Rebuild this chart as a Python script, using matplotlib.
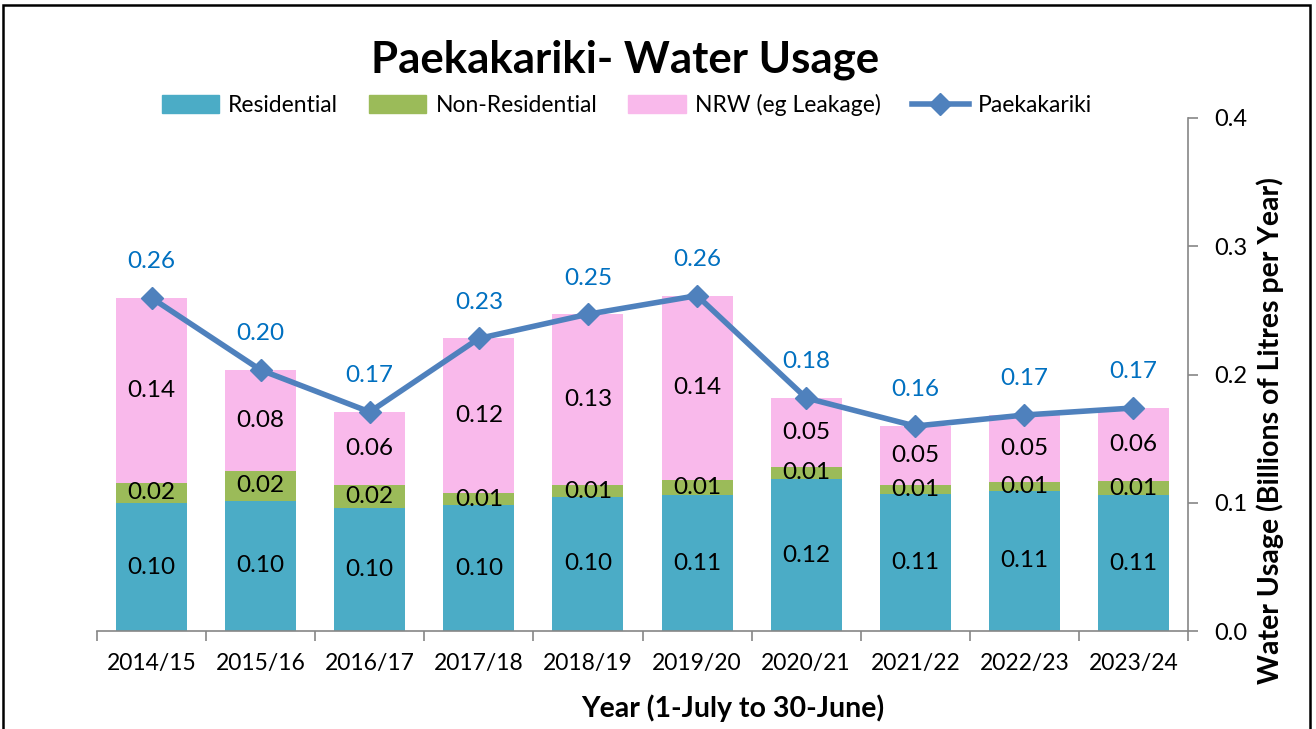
import numpy as np
import matplotlib.pyplot as plt
from matplotlib.patches import Rectangle
from matplotlib.lines import Line2D
from matplotlib.patches import Patch

years = ['2014/15', '2015/16', '2016/17', '2017/18', '2018/19',
         '2019/20', '2020/21', '2021/22', '2022/23', '2023/24']
residential = [0.0998, 0.1014, 0.0959, 0.0982, 0.1045, 0.1060, 0.1185, 0.1068, 0.1092, 0.1060]
non_residential = [0.0157, 0.0234, 0.0179, 0.0094, 0.0093, 0.0117, 0.0094, 0.0070, 0.0070, 0.0110]
nrw = [0.1442, 0.0787, 0.0570, 0.1205, 0.1332, 0.1438, 0.0538, 0.0460, 0.0522, 0.0569]
y_ticks = [0.0, 0.1, 0.2, 0.3, 0.4]

plt.rcParams['font.family'] = ['Lato', 'DejaVu Sans']

res = np.array(residential)
nonres = np.array(non_residential)
leak = np.array(nrw)
total = res + nonres + leak

W, H = 1316, 729
fig = plt.figure(figsize=(W / 100, H / 100), dpi=100)
ax = fig.add_axes([97 / W, 1 - 631 / H, (1188 - 97) / W, (631 - 118) / H])

x = np.arange(len(years))
bw = 0.65
ax.bar(x, res, bw, color='#4BACC6')
ax.bar(x, nonres, bw, bottom=res, color='#9BBB59')
ax.bar(x, leak, bw, bottom=res + nonres, color='#F9B9EB')
ax.plot(x, total, color='#4F81BD', lw=4, marker='D', ms=11, zorder=5)

# segment labels
for vals, bottoms in [(res, np.zeros_like(res)), (nonres, res), (leak, res + nonres)]:
    for xi, v, b in zip(x, vals, bottoms):
        ax.text(xi, b + v / 2, f'{v:.2f}', ha='center', va='center', fontsize=17.5, color='black')

# totals above line
for xi, t in zip(x, total):
    ax.annotate(f'{t:.2f}', (xi, t), xytext=(0, 26), textcoords='offset points',
                ha='center', va='center', color='#0070C0', fontsize=17.5)

ax.set_xlim(-0.5, len(years) - 0.5)
ax.set_ylim(0, 0.4)

for s in ['left', 'top']:
    ax.spines[s].set_visible(False)
for s in ['bottom', 'right']:
    ax.spines[s].set_color('#868686')
    ax.spines[s].set_linewidth(1.2)

ax.set_xticks(x)
ax.set_xticklabels(years, fontsize=16.5)
ax.set_xticks(np.arange(len(years) + 1) - 0.5, minor=True)
ax.tick_params(axis='x', which='major', length=0, pad=16)
ax.tick_params(axis='x', which='minor', length=7, color='#868686', width=1.2)

ax.yaxis.tick_right()
ax.set_yticks(y_ticks)
ax.set_yticklabels([f'{v:.1f}' for v in y_ticks], fontsize=17)
ax.tick_params(axis='y', length=7, color='#868686', width=1.2, pad=12)

fig.text(1270 / W, 1 - 431 / H, 'Water Usage (Billions of Litres per Year)', rotation=90,
         ha='center', va='center', fontsize=20.5, fontweight='bold')
fig.text(733 / W, 1 - 708 / H, 'Year (1-July to 30-June)', ha='center', va='center',
         fontsize=20.5, fontweight='bold')
fig.text(625 / W, 1 - 60 / H, 'Paekakariki- Water Usage', ha='center', va='center',
         fontsize=31.5, fontweight='bold')

handles = [Patch(color='#4BACC6'), Patch(color='#9BBB59'), Patch(color='#F9B9EB'),
           Line2D([], [], color='#4F81BD', lw=4, marker='D', ms=11)]
labels = ['Residential', 'Non-Residential', 'NRW (eg Leakage)', 'Paekakariki']
fig.legend(handles, labels, loc='center', bbox_to_anchor=(627 / W, 1 - 105 / H), ncol=4,
           frameon=False, fontsize=16.5, handlelength=2.5, handleheight=0.8,
           columnspacing=1.35, handletextpad=0.4)

fig.patches.append(Rectangle((3 / W, -0.02), 1307 / W, 1.02 - 5 / H, transform=fig.transFigure,
                             fill=False, edgecolor='black', lw=1.8))

fig.savefig('out.png', dpi=100)
